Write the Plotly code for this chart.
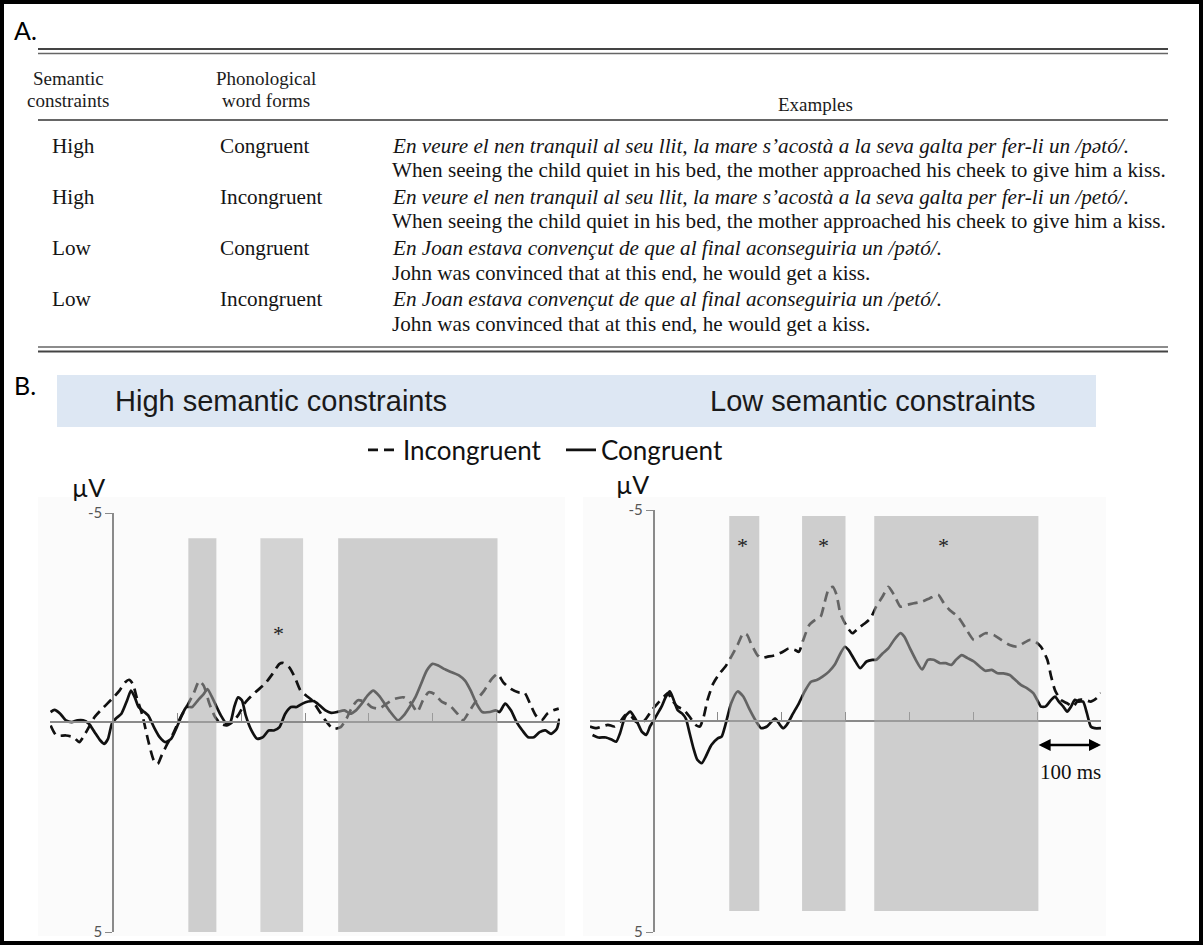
import plotly.graph_objects as go

# ---------------------------------------------------------------- data
# A. stimulus table
semantic_levels = ["High", "High", "Low", "Low"]
word_forms = ["Congruent", "Incongruent", "Congruent", "Incongruent"]
catalan_examples = [
    "En veure el nen tranquil al seu llit, la mare s’acostà a la seva galta per fer-li un /pətó/.",
    "En veure el nen tranquil al seu llit, la mare s’acostà a la seva galta per fer-li un /petó/.",
    "En Joan estava convençut de que al final aconseguiria un /pətó/.",
    "En Joan estava convençut de que al final aconseguiria un /petó/.",
]
english_examples = [
    "When seeing the child quiet in his bed, the mother approached his cheek to give him a kiss.",
    "When seeing the child quiet in his bed, the mother approached his cheek to give him a kiss.",
    "John was convinced that at this end, he would get a kiss.",
    "John was convinced that at this end, he would get a kiss.",
]
panel_titles = ["High semantic constraints", "Low semantic constraints"]

# B. ERP waveforms: time (ms) and amplitude (µV, negative plotted up)
hi_inc_t = [-99, -90, -75, -63, -54, -48, -39, -30, -18, -3, 9, 18, 24, 30, 36, 45, 54, 63, 69, 75,
            84, 93, 105, 117, 126, 134, 141, 150, 159, 168, 177, 186, 195, 207, 222, 237, 249, 260, 266, 275,
            284, 293, 302, 311, 320, 332, 344, 356, 365, 374, 383, 395, 404, 416, 428, 440, 455, 467, 476, 485,
            494, 503, 515, 527, 539, 548, 557, 569, 581, 593, 602, 611, 623, 635, 644, 653, 662, 671, 680, 689, 698]
hi_inc_uv = [0.07, 0.31, 0.31, 0.35, 0.47, 0.35, 0.11, -0.13, -0.33, -0.56, -0.76, -0.96, -1.02, -0.92, -0.60, -0.17, 0.43, 0.91, 0.99, 0.79,
             0.51, 0.27, -0.13, -0.45, -0.72, -0.99, -0.88, -0.45, -0.13, 0.03, 0.07, -0.01, -0.17, -0.49, -0.72, -0.92, -1.16, -1.40, -1.42, -1.32,
             -1.08, -0.76, -0.64, -0.53, -0.33, -0.05, 0.15, 0.11, -0.09, -0.37, -0.53, -0.49, -0.37, -0.33, -0.45, -0.56, -0.60, -0.45, -0.25, -0.53,
             -0.72, -0.68, -0.49, -0.41, -0.21, -0.05, -0.25, -0.53, -0.76, -1.04, -1.16, -0.96, -0.80, -0.72, -0.72, -0.45, -0.17, -0.05, -0.21, -0.29, -0.33]

hi_con_t = [-99, -93, -84, -75, -66, -57, -48, -39, -30, -21, -15, -9, -3, 3, 12, 21, 27, 33, 39, 48,
            54, 63, 72, 81, 90, 99, 108, 114, 123, 132, 141, 147, 153, 159, 168, 177, 183, 189, 195, 201,
            207, 216, 225, 234, 243, 251, 260, 269, 278, 287, 296, 305, 314, 323, 332, 341, 350, 362, 371, 380,
            389, 398, 407, 416, 425, 434, 446, 455, 464, 473, 482, 491, 500, 509, 518, 530, 542, 551, 560, 569,
            578, 590, 599, 605, 614, 623, 632, 641, 650, 659, 668, 677, 686, 695, 699]
hi_con_uv = [-0.25, -0.30, -0.21, -0.05, -0.01, -0.05, -0.05, 0.03, 0.23, 0.43, 0.51, 0.39, 0.03, -0.09, -0.21, -0.53, -0.76, -0.60, -0.37, -0.25,
             -0.17, 0.11, 0.35, 0.47, 0.39, 0.11, -0.21, -0.37, -0.37, -0.53, -0.68, -0.80, -0.64, -0.45, -0.17, 0.03, -0.01, -0.37, -0.60, -0.53,
             -0.17, 0.19, 0.39, 0.35, 0.19, 0.19, 0.11, -0.21, -0.37, -0.37, -0.45, -0.50, -0.51, -0.41, -0.29, -0.23, -0.25, -0.29, -0.21, -0.29,
             -0.45, -0.64, -0.76, -0.64, -0.45, -0.25, -0.05, -0.17, -0.37, -0.60, -0.92, -1.24, -1.40, -1.36, -1.28, -1.20, -1.12, -1.00, -0.76, -0.45,
             -0.25, -0.25, -0.29, -0.25, -0.45, -0.29, -0.01, 0.19, 0.35, 0.35, 0.23, 0.19, 0.27, 0.15, -0.09]

lo_inc_t = [-100, -90, -81, -72, -62, -53, -45, -37, -28, -19, -12, -3, 6, 16, 22, 28, 37, 47, 56, 65,
            72, 78, 84, 93, 103, 112, 121, 131, 140, 146, 152, 162, 168, 177, 190, 202, 211, 221, 227, 233,
            243, 252, 261, 267, 274, 280, 286, 292, 302, 311, 320, 330, 339, 348, 358, 367, 376, 386, 395, 407,
            420, 432, 445, 454, 463, 476, 488, 501, 510, 519, 532, 544, 557, 569, 578, 588, 597, 606, 616, 622,
            628, 637, 647, 656, 665, 675, 684, 693, 700]
lo_inc_uv = [0.13, 0.17, 0.13, 0.09, 0.13, 0.02, -0.14, -0.14, 0.02, 0.06, -0.06, -0.26, -0.42, -0.58, -0.66, -0.50, -0.34, -0.26, -0.10, 0.09,
             0.13, -0.10, -0.50, -0.89, -1.13, -1.29, -1.52, -1.80, -2.08, -2.04, -1.84, -1.56, -1.49, -1.52, -1.56, -1.64, -1.72, -1.68, -1.64, -1.88,
             -2.27, -2.39, -2.47, -2.79, -3.14, -3.18, -2.99, -2.55, -2.24, -2.08, -2.20, -2.31, -2.43, -2.71, -2.95, -3.18, -2.99, -2.71, -2.75, -2.79,
             -2.83, -2.91, -2.99, -2.79, -2.63, -2.47, -2.20, -1.92, -2.00, -2.08, -2.04, -1.92, -1.80, -1.76, -1.84, -1.92, -1.88, -1.76, -1.45, -1.05,
             -0.73, -0.50, -0.42, -0.34, -0.50, -0.50, -0.46, -0.54, -0.66]

lo_con_t = [-96, -87, -75, -65, -59, -53, -45, -37, -31, -25, -19, -12, -6, 0, 6, 12, 19, 25, 31, 37,
            44, 50, 56, 62, 68, 75, 81, 90, 100, 106, 112, 121, 131, 140, 149, 159, 168, 177, 184, 190,
            196, 202, 208, 218, 227, 236, 246, 255, 264, 274, 283, 292, 299, 305, 314, 323, 333, 342, 348, 358,
            367, 376, 386, 392, 401, 410, 420, 429, 438, 448, 457, 466, 473, 482, 491, 501, 510, 519, 529, 538,
            547, 557, 566, 575, 585, 594, 600, 606, 613, 622, 628, 634, 641, 647, 653, 659, 665, 672, 678, 684,
            690, 700]
lo_con_uv = [0.33, 0.39, 0.39, 0.45, 0.49, 0.29, -0.10, -0.22, -0.10, 0.06, 0.25, 0.33, 0.13, -0.02, -0.18, -0.34, -0.58, -0.70, -0.50, -0.26,
             -0.18, -0.06, 0.29, 0.65, 0.92, 1.00, 0.85, 0.57, 0.41, 0.37, 0.09, -0.42, -0.70, -0.58, -0.30, -0.02, 0.17, 0.13, 0.02, -0.06,
             0.06, 0.17, 0.09, -0.18, -0.42, -0.70, -0.93, -0.97, -1.05, -1.17, -1.33, -1.60, -1.76, -1.68, -1.45, -1.25, -1.41, -1.45, -1.45, -1.60,
             -1.72, -1.92, -2.08, -2.00, -1.72, -1.45, -1.22, -1.45, -1.45, -1.37, -1.37, -1.33, -1.45, -1.56, -1.49, -1.41, -1.29, -1.19, -1.21, -1.13,
             -1.13, -1.09, -0.97, -0.85, -0.77, -0.66, -0.50, -0.34, -0.34, -0.50, -0.58, -0.46, -0.34, -0.22, -0.34, -0.50, -0.46, -0.46, -0.18, 0.13,
             0.17, 0.17]

# analysis windows (ms) and their vertical extent (µV)
hi_windows = [(117, 161), (230, 297), (352, 602)]
hi_window_uv = (-4.4, 5.0)
lo_windows = [(118, 165), (232, 300), (345, 602)]
lo_window_uv = (-4.86, 4.5)

# significant effects: (time ms, µV)
hi_stars = [(258, -2.12)]
lo_stars = [(138, -4.15), (266, -4.15), (454, -4.15)]

# ---------------------------------------------------------------- helpers
W, H = 1203, 945


def px(x):
    return x / W


def py(y):
    return 1 - y / H


INK = "#111111"
AXIS = "#8a8a8a"
SERIF = "Liberation Serif"
SANS = "Liberation Sans"
HUMAN = "Lato"

fig = go.Figure()

line_inc = dict(color=INK, width=2.7, dash="10px,6px", shape="spline", smoothing=0.6)
line_con = dict(color=INK, width=2.7, shape="spline", smoothing=0.6)

fig.add_trace(go.Scatter(x=hi_inc_t, y=hi_inc_uv, mode="lines", name="Incongruent",
                         legendgroup="inc", line=line_inc, xaxis="x", yaxis="y", hoverinfo="skip"))
fig.add_trace(go.Scatter(x=hi_con_t, y=hi_con_uv, mode="lines", name="Congruent",
                         legendgroup="con", line=line_con, xaxis="x", yaxis="y", hoverinfo="skip"))
fig.add_trace(go.Scatter(x=lo_inc_t, y=lo_inc_uv, mode="lines", name="Incongruent", showlegend=False,
                         legendgroup="inc", line=line_inc, xaxis="x2", yaxis="y2", hoverinfo="skip"))
fig.add_trace(go.Scatter(x=lo_con_t, y=lo_con_uv, mode="lines", name="Congruent", showlegend=False,
                         legendgroup="con", line=line_con, xaxis="x2", yaxis="y2", hoverinfo="skip"))

shapes = []
annotations = []

# outer frame
shapes.append(dict(type="rect", xref="paper", yref="paper", x0=px(2), x1=px(1201), y0=py(943), y1=py(2),
                   line=dict(color="black", width=4), fillcolor="rgba(0,0,0,0)", layer="above"))

# ---------------------------------------------------------------- A. table
annotations.append(dict(text="A.", x=px(12), y=py(30), xref="paper", yref="paper", xanchor="left",
                        yanchor="middle", showarrow=False, font=dict(family=HUMAN, size=25, color="black")))

TABLE_L, TABLE_R = 38, 1168
for yy, wd, col in [(49, 2.2, "#444"), (53.5, 1.3, "#666"), (120, 1.5, "#333"),
                    (347, 1.3, "#666"), (351.5, 2.2, "#444")]:
    shapes.append(dict(type="line", xref="paper", yref="paper", x0=px(TABLE_L), x1=px(TABLE_R),
                       y0=py(yy), y1=py(yy), line=dict(color=col, width=wd)))

head_font = dict(family=SERIF, size=19, color="#1c1c1c")
body_font = dict(family=SERIF, size=21.2, color="#141414")


def cell(text, x, y, anchor="left", font=body_font):
    annotations.append(dict(text=text, x=px(x), y=py(y), xref="paper", yref="paper", xanchor=anchor,
                            yanchor="middle", showarrow=False, font=font))


cell("Semantic", 68, 78, "center", head_font)
cell("constraints", 68, 100, "center", head_font)
cell("Phonological", 266, 78, "center", head_font)
cell("word forms", 266, 100, "center", head_font)
cell("Examples", 815, 104, "center", head_font)

ROW0, ROW_STEP, LINE_STEP = 146, 51, 24.5
for i in range(len(semantic_levels)):
    y0 = ROW0 + i * ROW_STEP
    cell(semantic_levels[i], 50, y0)
    cell(word_forms[i], 218, y0)
    cell("<i>" + catalan_examples[i] + "</i>", 390, y0)
    cell(english_examples[i], 390, y0 + LINE_STEP)

# ---------------------------------------------------------------- B. header band
annotations.append(dict(text="B.", x=px(12), y=py(385), xref="paper", yref="paper", xanchor="left",
                        yanchor="middle", showarrow=False, font=dict(family=HUMAN, size=25, color="black")))
shapes.append(dict(type="rect", xref="paper", yref="paper", x0=px(57), x1=px(1096), y0=py(427), y1=py(375),
                   fillcolor="#dde7f3", line=dict(width=0), layer="below"))
for title, xl in zip(panel_titles, [113, 708]):
    annotations.append(dict(text=title, x=px(xl), y=py(401), xref="paper", yref="paper", xanchor="left",
                            yanchor="middle", showarrow=False, font=dict(family=SANS, size=29, color="#1a1a1a")))

for xc, yc in [(88, 487), (632, 484)]:
    annotations.append(dict(text="µV", x=px(xc), y=py(yc), xref="paper", yref="paper", xanchor="center",
                            yanchor="middle", showarrow=False, font=dict(family=HUMAN, size=25, color="#111")))

# faint panel backgrounds
for x0, x1 in [(38, 565), (583, 1106)]:
    shapes.append(dict(type="rect", xref="paper", yref="paper", x0=px(x0), x1=px(x1), y0=py(936), y1=py(497),
                       fillcolor="#fbfbfb", line=dict(width=0), layer="below"))

# analysis windows
hi_layers = ["above", "below", "above"]
for (t0, t1), layer in zip(hi_windows, hi_layers):
    fill = "rgba(170,170,170,0.55)" if layer == "above" else "#d3d3d3"
    shapes.append(dict(type="rect", xref="x", yref="y", x0=t0, x1=t1, y0=hi_window_uv[0], y1=hi_window_uv[1],
                       fillcolor=fill, line=dict(width=0), layer=layer))
for t0, t1 in lo_windows:
    shapes.append(dict(type="rect", xref="x2", yref="y2", x0=t0, x1=t1, y0=lo_window_uv[0], y1=lo_window_uv[1],
                       fillcolor="rgba(170,170,170,0.55)", line=dict(width=0), layer="above"))

star_font = dict(family=SERIF, size=22, color="#222")
for t, v in hi_stars:
    annotations.append(dict(text="*", x=t, y=v, xref="x", yref="y", showarrow=False, font=star_font))
for t, v in lo_stars:
    annotations.append(dict(text="*", x=t, y=v, xref="x2", yref="y2", showarrow=False, font=star_font))

# 100 ms scale bar
annotations.append(dict(text="", x=700, y=0.57, ax=600, ay=0.57, xref="x2", yref="y2", axref="x2", ayref="y2",
                        showarrow=True, arrowhead=2, arrowside="end+start", arrowsize=1.0, arrowwidth=2.4,
                        arrowcolor="#000"))
annotations.append(dict(text="100 ms", x=652, y=1.22, xref="x2", yref="y2", showarrow=False,
                        font=dict(family=SERIF, size=21, color="#111")))

# ---------------------------------------------------------------- axes
x_common = dict(range=[-100, 700], anchor="free", showline=True, linecolor=AXIS, linewidth=1.6,
                ticks="inside", ticklen=8, tickwidth=1.4, tickcolor=AXIS,
                tickvals=[-100, 100, 200, 300, 400, 500, 600, 700], showticklabels=False,
                showgrid=False, zeroline=False, automargin=False, fixedrange=True)
y_common = dict(range=[5, -5], anchor="free", showline=True, linecolor=AXIS, linewidth=1.6,
                ticks="outside", ticklen=7, tickwidth=1.4, tickcolor=AXIS,
                tickvals=[-5, 5], ticktext=["-5", "5"], tickfont=dict(family=HUMAN, size=15, color="#555"),
                showgrid=False, zeroline=False, automargin=False, fixedrange=True)

fig.update_layout(
    width=W, height=H,
    margin=dict(l=0, r=0, t=0, b=0),
    template="none",
    paper_bgcolor="white",
    plot_bgcolor="rgba(0,0,0,0)",
    xaxis=dict(x_common, domain=[px(50), px(560)], position=py(722)),
    yaxis=dict(y_common, domain=[py(932), py(513)], position=px(113)),
    xaxis2=dict(x_common, domain=[px(590), px(1101)], position=py(721)),
    yaxis2=dict(y_common, domain=[py(932), py(510)], position=px(653.5)),
    legend=dict(orientation="h", x=px(363), y=py(450), xanchor="left", yanchor="middle",
                font=dict(family=HUMAN, size=26, color="#111"), bgcolor="rgba(0,0,0,0)",
                entrywidth=153, entrywidthmode="pixels", traceorder="normal"),
    shapes=shapes,
    annotations=annotations,
)

fig.write_html("out.html")
